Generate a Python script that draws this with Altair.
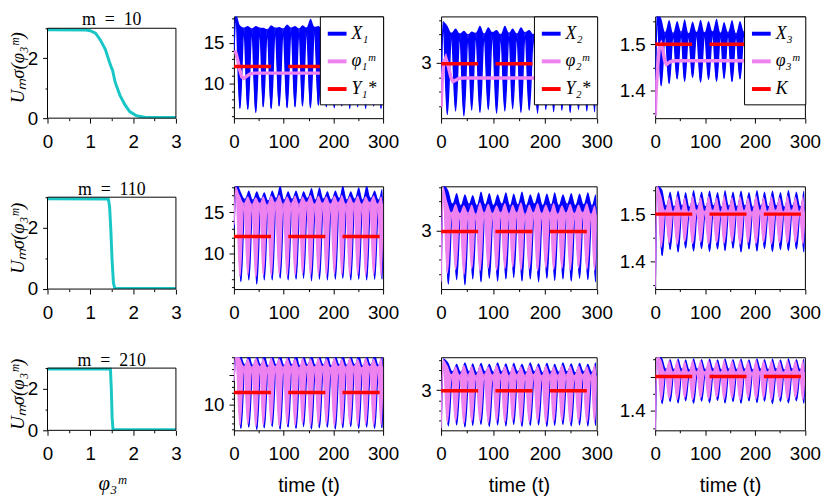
import altair as alt
import pandas as pd

# ------------------------------------------------------------------ colours / fonts
BLUE = "#0000FF"
VIOLET = "#EE82EE"
RED = "#FF0000"
CYAN = "#19C6C6"
SANS = "Liberation Sans"
SERIF = "Liberation Serif"

# ------------------------------------------------------------------ left column: U_m^sigma(phi_3^m)
m_titles = ["m\u2002=\u200210", "m\u2002=\u2002110", "m\u2002=\u2002210"]
phi_m10 = [0.0, 0.9, 1.0, 1.12, 1.23, 1.35, 1.45, 1.5, 1.52, 1.58, 1.69, 1.81, 1.92, 2.08, 2.27, 2.5, 3.0]
U_m10 = [2.95, 2.94, 2.92, 2.84, 2.62, 2.30, 1.86, 1.66, 1.60, 1.20, 0.77, 0.44, 0.22, 0.08, 0.03, 0.02, 0.02]
phi_m110 = [0.0, 1.42, 1.45, 1.48, 1.51, 1.54, 1.57, 3.0]
U_m110 = [2.95, 2.94, 2.70, 1.90, 0.90, 0.20, 0.03, 0.02]
phi_m210 = [0.0, 1.47, 1.49, 1.51, 1.53, 3.0]
U_m210 = [2.95, 2.95, 2.00, 0.60, 0.04, 0.03]
frame_phi = [0, 3]
frame_U = [0, 3]

# ------------------------------------------------------------------ oscillation envelopes
t_apex = [4, 20, 36, 52, 67, 83, 99, 115, 131, 146,
          162, 178, 194, 210, 225, 241, 257, 273, 289, 300]
t_trough = [12, 28, 44, 59, 75, 91, 107, 123, 138, 154,
            170, 186, 202, 217, 233, 249, 265, 281, 296]
t_apex_b = [5, 22, 38, 54, 69, 85, 101, 117, 133, 148,
            164, 180, 196, 212, 227, 243, 259, 275, 291, 300]
t_trough_b = [14, 30, 46, 61, 77, 93, 109, 125, 140, 156,
              172, 188, 204, 219, 235, 251, 267, 283, 298]
t_target = [0, 300]
targets = [12.1, 2.99, 1.5]

# ---- m = 10 : X_i (blue)
X1_start_m10 = [14.0, 14.5]
X1_apex_m10 = [18.6, 16.9, 16.8, 16.9, 16.7, 16.9, 16.8, 16.9, 16.8, 16.9,
               17.0, 16.8, 16.9, 16.8, 16.9, 16.8, 16.9, 16.8, 16.9, 16.8]
X1_low_m10 = [6.9, 6.8, 6.4, 7.1, 6.9, 7.2, 7.0, 7.1, 7.2, 7.0,
              7.3, 7.1, 7.0, 7.2, 6.9, 7.1, 6.9, 7.2, 6.9]
X1_top_m10 = [17.2, 17.1, 17.1, 16.9, 17.2, 17.0, 17.3, 17.1, 17.2, 18.0,
              17.1, 17.2, 17.0, 17.3, 17.0, 17.2, 17.1, 17.0, 17.2]
X2_start_m10 = [2.55, 2.70]
X2_apex_m10 = [3.58, 3.42, 3.41, 3.40, 3.42, 3.41, 3.43, 3.40, 3.42, 3.41,
               3.43, 3.40, 3.42, 3.41, 3.43, 3.40, 3.42, 3.41, 3.42, 3.40]
X2_low_m10 = [2.28, 2.33, 2.26, 2.34, 2.31, 2.35, 2.30, 2.33, 2.36, 2.31,
              2.34, 2.30, 2.35, 2.32, 2.34, 2.31, 2.35, 2.33, 2.32]
X2_top_m10 = [3.52, 3.48, 3.45, 3.44, 3.52, 3.50, 3.46, 3.52, 3.48, 3.50,
              3.46, 3.52, 3.48, 3.50, 3.47, 3.51, 3.48, 3.50, 3.46]
X3_start_m10 = [1.345, 1.350]
X3_apex_m10 = [1.565, 1.526, 1.524, 1.527, 1.523, 1.526, 1.525, 1.527, 1.524, 1.526,
               1.523, 1.527, 1.525, 1.526, 1.524, 1.527, 1.523, 1.526, 1.525, 1.521]
X3_low_m10 = [1.410, 1.415, 1.425, 1.420, 1.428, 1.418, 1.424, 1.420, 1.426, 1.419,
              1.425, 1.421, 1.427, 1.418, 1.424, 1.420, 1.426, 1.421, 1.423]
X3_top_m10 = [1.556, 1.552, 1.550, 1.554, 1.549, 1.553, 1.550, 1.555, 1.548, 1.552,
              1.550, 1.554, 1.549, 1.553, 1.550, 1.552, 1.549, 1.553, 1.550]
# ---- m = 10 : phi_i^m (violet lines)
t_phi1 = [0, 4, 8, 12, 16, 20, 26, 32, 40, 300]
phi1_m10 = [14.0, 13.8, 12.8, 11.6, 10.8, 10.65, 10.9, 11.15, 11.28, 11.28]
t_phi2 = [0, 2, 5, 9, 14, 19, 23, 28, 34, 44, 300]
phi2_m10 = [2.38, 2.75, 3.0, 3.07, 2.95, 2.80, 2.74, 2.76, 2.785, 2.79, 2.79]
t_phi3 = [0, 2, 5, 8, 12, 15, 19, 23, 30, 40, 300]
phi3_m10 = [1.345, 1.40, 1.45, 1.49, 1.50, 1.49, 1.465, 1.456, 1.462, 1.464, 1.464]

# ---- m = 110
X1_start_m110 = [13.0, 14.0]
X1_apex_m110 = [18.5, 16.6, 16.5, 16.6, 16.4, 16.7, 16.5, 16.6, 16.5, 16.7,
                16.5, 16.6, 16.5, 16.7, 16.5, 16.6, 16.5, 16.7, 16.5, 16.4]
X1_low_m110 = [6.7, 6.9, 6.4, 6.9, 6.9, 7.1, 6.9, 7.0, 7.1, 6.8,
               7.0, 6.9, 7.0, 7.1, 6.9, 7.0, 6.9, 7.0, 7.0]
X1_top_m110 = [17.4, 17.6, 17.5, 17.4, 17.6, 18.2, 17.5, 17.6, 17.5, 17.9,
               18.0, 17.5, 17.6, 18.2, 17.5, 18.0, 18.2, 17.6, 17.8]
p1_start_m110 = [13.5, 14.0]
p1_apex_m110 = [18.0, 16.1, 16.0, 16.1, 15.9, 16.2, 16.0, 16.1, 16.0, 16.2,
                16.0, 16.1, 16.0, 16.2, 16.0, 16.1, 16.0, 16.2, 16.0, 15.9]
p1_low_m110 = [7.3, 7.5, 7.2, 7.5, 7.4, 7.6, 7.4, 7.5, 7.6, 7.4,
               7.5, 7.4, 7.6, 7.5, 7.4, 7.5, 7.4, 7.5, 7.4]
p1_top_m110 = [17.0, 16.9, 16.8, 16.9, 17.0, 17.1, 16.9, 17.0, 16.9, 17.1,
               17.0, 16.9, 17.0, 17.1, 16.9, 17.0, 16.9, 17.0, 16.9]
X2_start_m110 = [2.45, 2.60]
X2_apex_m110 = [3.62, 3.37, 3.35, 3.37, 3.35, 3.36, 3.35, 3.37, 3.35, 3.36,
                3.35, 3.37, 3.35, 3.36, 3.35, 3.37, 3.35, 3.36, 3.35, 3.33]
X2_low_m110 = [2.27, 2.33, 2.26, 2.34, 2.30, 2.35, 2.31, 2.34, 2.36, 2.31,
               2.34, 2.30, 2.35, 2.32, 2.34, 2.31, 2.35, 2.33, 2.30]
X2_top_m110 = [3.55, 3.52, 3.50, 3.49, 3.54, 3.52, 3.50, 3.53, 3.51, 3.54,
               3.50, 3.53, 3.51, 3.53, 3.50, 3.52, 3.51, 3.53, 3.50]
p2_start_m110 = [2.30, 2.45]
p2_apex_m110 = [3.60, 3.25, 3.24, 3.25, 3.23, 3.25, 3.24, 3.25, 3.24, 3.25,
                3.23, 3.25, 3.24, 3.25, 3.23, 3.25, 3.24, 3.25, 3.23, 3.22]
p2_low_m110 = [2.42, 2.47, 2.40, 2.48, 2.45, 2.49, 2.46, 2.48, 2.50, 2.46,
               2.48, 2.45, 2.49, 2.47, 2.48, 2.46, 2.49, 2.47, 2.46]
p2_top_m110 = [3.40, 3.37, 3.35, 3.36, 3.39, 3.37, 3.35, 3.38, 3.36, 3.39,
               3.36, 3.38, 3.36, 3.38, 3.35, 3.37, 3.36, 3.38, 3.35]
X3_start_m110 = [1.345, 1.360]
X3_apex_m110 = [1.560, 1.518, 1.516, 1.518, 1.515, 1.518, 1.516, 1.518, 1.515, 1.518,
                1.516, 1.518, 1.515, 1.518, 1.516, 1.518, 1.515, 1.518, 1.516, 1.514]
X3_low_m110 = [1.412, 1.425, 1.420, 1.428, 1.422, 1.427, 1.421, 1.426, 1.423, 1.428,
               1.420, 1.426, 1.422, 1.427, 1.421, 1.425, 1.423, 1.426, 1.420]
X3_top_m110 = [1.552, 1.548, 1.550, 1.547, 1.551, 1.548, 1.550, 1.547, 1.551, 1.548,
               1.550, 1.547, 1.551, 1.548, 1.550, 1.547, 1.551, 1.548, 1.550]
p3_start_m110 = [1.345, 1.350]
p3_apex_m110 = [1.560, 1.508, 1.506, 1.508, 1.505, 1.508, 1.506, 1.508, 1.505, 1.508,
                1.506, 1.508, 1.505, 1.508, 1.506, 1.508, 1.505, 1.508, 1.506, 1.504]
p3_low_m110 = [1.430, 1.440, 1.436, 1.442, 1.438, 1.441, 1.437, 1.440, 1.439, 1.442,
               1.436, 1.440, 1.438, 1.441, 1.437, 1.440, 1.439, 1.441, 1.437]
p3_top_m110 = [1.540, 1.537, 1.539, 1.536, 1.540, 1.537, 1.539, 1.536, 1.540, 1.537,
               1.539, 1.536, 1.540, 1.537, 1.539, 1.536, 1.540, 1.537, 1.539]

# ---- m = 210
X1_start_m210 = [14.0, 15.0]
X1_apex_m210 = [19.0, 16.8, 16.7, 16.8, 16.6, 16.8, 16.7, 16.8, 16.6, 16.8,
                16.7, 16.8, 16.6, 16.8, 16.7, 16.8, 16.6, 16.8, 16.7, 16.5]
X1_low_m210 = [6.1, 6.3, 5.9, 6.2, 6.4, 6.0, 6.3, 6.1, 6.4, 6.0,
               6.2, 6.3, 6.0, 6.2, 6.4, 6.1, 6.3, 6.1, 6.2]
X1_top_m210 = [18.4, 18.5, 18.3, 18.6, 18.4, 18.5, 18.3, 18.6, 18.4, 18.5,
               18.3, 18.6, 18.4, 18.5, 18.3, 18.6, 18.4, 18.5, 18.3]
p1_start_m210 = [14.0, 14.5]
p1_apex_m210 = [18.5, 16.5, 16.4, 16.5, 16.3, 16.5, 16.4, 16.5, 16.3, 16.5,
                16.4, 16.5, 16.3, 16.5, 16.4, 16.5, 16.3, 16.5, 16.4, 16.2]
p1_low_m210 = [6.6, 6.8, 6.4, 6.7, 6.9, 6.5, 6.8, 6.6, 6.9, 6.5,
               6.7, 6.8, 6.5, 6.7, 6.9, 6.6, 6.8, 6.6, 6.7]
p1_top_m210 = [17.9, 17.8, 17.9, 17.8, 17.9, 17.8, 17.9, 17.8, 17.9, 17.8,
               17.9, 17.8, 17.9, 17.8, 17.9, 17.8, 17.9, 17.8, 17.9]
X2_start_m210 = [2.30, 2.40]
X2_apex_m210 = [3.62, 3.37, 3.36, 3.37, 3.35, 3.37, 3.36, 3.37, 3.35, 3.37,
                3.36, 3.37, 3.35, 3.37, 3.36, 3.37, 3.35, 3.37, 3.36, 3.34]
X2_low_m210 = [2.30, 2.32, 2.28, 2.31, 2.33, 2.29, 2.32, 2.30, 2.33, 2.29,
               2.31, 2.32, 2.29, 2.31, 2.33, 2.30, 2.32, 2.30, 2.31]
X2_top_m210 = [3.54, 3.52, 3.55, 3.53, 3.54, 3.52, 3.55, 3.53, 3.54, 3.52,
               3.55, 3.53, 3.54, 3.52, 3.55, 3.53, 3.54, 3.52, 3.55]
p2_start_m210 = [2.25, 2.35]
p2_apex_m210 = [3.60, 3.31, 3.30, 3.31, 3.29, 3.31, 3.30, 3.31, 3.29, 3.31,
                3.30, 3.31, 3.29, 3.31, 3.30, 3.31, 3.29, 3.31, 3.30, 3.28]
p2_low_m210 = [2.37, 2.39, 2.35, 2.38, 2.40, 2.36, 2.39, 2.37, 2.40, 2.36,
               2.38, 2.39, 2.36, 2.38, 2.40, 2.37, 2.39, 2.37, 2.38]
p2_top_m210 = [3.49, 3.47, 3.50, 3.48, 3.49, 3.47, 3.50, 3.48, 3.49, 3.47,
               3.50, 3.48, 3.49, 3.47, 3.50, 3.48, 3.49, 3.47, 3.50]
X3_start_m210 = [1.345, 1.360]
X3_apex_m210 = [1.560, 1.522, 1.521, 1.522, 1.520, 1.522, 1.521, 1.522, 1.520, 1.522,
                1.521, 1.522, 1.520, 1.522, 1.521, 1.522, 1.520, 1.522, 1.521, 1.519]
X3_low_m210 = [1.422, 1.428, 1.424, 1.430, 1.423, 1.429, 1.425, 1.431, 1.424, 1.428,
               1.423, 1.430, 1.425, 1.429, 1.422, 1.428, 1.424, 1.430, 1.423]
X3_top_m210 = [1.553, 1.551, 1.552, 1.550, 1.553, 1.551, 1.552, 1.550, 1.553, 1.551,
               1.552, 1.550, 1.553, 1.551, 1.552, 1.550, 1.553, 1.551, 1.552]
p3_start_m210 = [1.345, 1.350]
p3_apex_m210 = [1.560, 1.515, 1.514, 1.515, 1.513, 1.515, 1.514, 1.515, 1.513, 1.515,
                1.514, 1.515, 1.513, 1.515, 1.514, 1.515, 1.513, 1.515, 1.514, 1.511]
p3_low_m210 = [1.432, 1.437, 1.434, 1.439, 1.433, 1.438, 1.435, 1.440, 1.434, 1.437,
               1.433, 1.439, 1.435, 1.438, 1.432, 1.437, 1.434, 1.439, 1.433]
p3_top_m210 = [1.549, 1.547, 1.548, 1.546, 1.549, 1.547, 1.548, 1.546, 1.549, 1.547,
               1.548, 1.546, 1.549, 1.547, 1.548, 1.546, 1.549, 1.547, 1.548]

legend_labels = [
    ["X\u2081", "\u03c6\u2081\u1d50", "Y\u2081*"],
    ["X\u2082", "\u03c6\u2082\u1d50", "Y\u2082*"],
    ["X\u2083", "\u03c6\u2083\u1d50", "K"],
]

# ------------------------------------------------------------------ layout
col_w = [130, 151, 157.5, 151.6]
row_h = [103, 104, 74]
u_top = [3.396, 3.355, 3.524]
ydoms = [
    [[5.7, 18.3], [2.23, 3.65], [1.34, 1.56]],
    [[5.8, 18.1], [2.2, 3.61], [1.341, 1.559]],
    [[5.76, 18.0], [2.21, 3.65], [1.344, 1.556]],
]


def envelope(ta, tt, start, apex, low, top):
    rows = [{"t": 0, "lo": start[0], "hi": start[1]}]
    for i in range(len(tt)):
        rows.append({"t": ta[i], "lo": apex[i], "hi": apex[i]})
        rows.append({"t": tt[i], "lo": low[i], "hi": top[i]})
    rows.append({"t": ta[len(tt)], "lo": apex[len(tt)], "hi": apex[len(tt)]})
    return pd.DataFrame(rows)


def tick_size(minor_test):
    return {"condition": {"test": minor_test, "value": 2.5}, "value": 5}


def time_xaxis(show_title):
    kw = dict(values=[0, 50, 100, 150, 200, 250, 300],
              labelExpr="datum.value % 100 == 0 ? format(datum.value, 'd') : ''",
              tickSize=tick_size("datum.value % 100 != 0"),
              labelFlush=False, labelOverlap=False, labelPadding=10)
    if show_title:
        kw.update(title="time (t)", titleFont=SANS, titleFontSize=20, titlePadding=12)
    else:
        kw.update(title=None)
    return alt.Axis(**kw)


def time_yaxis(ci, ri, ydom):
    if ci == 0:
        vals = [v for v in [6, 7, 8, 9, 10, 11, 12, 13, 14, 15, 16, 17, 18] if ydom[0] <= v <= ydom[1]]
        lab = "datum.value == 10 ? '10' : ''" if ri == 2 else \
            "datum.value == 10 ? '10' : datum.value == 15 ? '15' : ''"
        minor = "datum.value % 5 != 0"
    elif ci == 1:
        vals = [v for v in [2.4, 2.6, 2.8, 3.0, 3.2, 3.4, 3.6] if ydom[0] <= v <= ydom[1]]
        lab = "abs(datum.value - 3) < 0.001 ? '3' : ''"
        minor = "abs(datum.value - 3) > 0.001"
    else:
        vals = [1.35, 1.4, 1.45, 1.5, 1.55]
        if ri == 2:
            lab = "abs(datum.value - 1.4) < 0.001 ? '1.4' : ''"
        else:
            lab = "abs(datum.value - 1.4) < 0.001 ? '1.4' : abs(datum.value - 1.5) < 0.001 ? '1.5' : ''"
        minor = "abs(datum.value - 1.4) > 0.001 && abs(datum.value - 1.5) > 0.001"
    return alt.Axis(values=vals, labelExpr=lab, tickSize=tick_size(minor),
                    labelOverlap=False, labelPadding=5, title=None)


def time_panel(ci, ri, blue_df, vio_df, phi_line):
    ydom = ydoms[ri][ci]
    xs = alt.Scale(domain=[0, 300], nice=False, zero=False)
    ys = alt.Scale(domain=ydom, nice=False, zero=False)
    xax = time_xaxis(ri == 2)
    yax = time_yaxis(ci, ri, ydom)

    def X(f):
        return alt.X(f"{f}:Q", scale=xs, axis=xax)

    def Y(f):
        return alt.Y(f"{f}:Q", scale=ys, axis=yax)

    def blocks(df, color):
        base = alt.Chart(df)
        fill = base.mark_area(color=color, clip=True, interpolate="monotone").encode(
            x=X("t"), y=Y("hi"), y2="lo")
        edge = base.mark_line(color=color, clip=True, strokeWidth=1.5,
                              interpolate="monotone").encode(x=X("t"), y=Y("lo"))
        return [fill, edge]

    layers = blocks(blue_df, BLUE)
    labels = legend_labels[ci]
    red_df = pd.DataFrame({"t0": [t_target[0]], "t1": [t_target[1]], "v": [targets[ci]], "s": [labels[2]]})
    if ri == 0:
        cscale = alt.Scale(domain=labels, range=[BLUE, VIOLET, RED])
        leg = alt.Legend(title=None, orient="top-right", offset=0, padding=6,
                         fillColor="white", strokeColor="black", cornerRadius=0,
                         symbolType="stroke", symbolSize=361, symbolStrokeWidth=4,
                         labelFont=SERIF, labelFontStyle="italic", labelFontSize=18,
                         labelColor="black", rowPadding=7, labelOffset=3)
        pt, pv = phi_line
        layers.append(
            alt.Chart(pd.DataFrame({"t": pt, "v": pv, "s": [labels[1]] * len(pt)}))
            .mark_line(strokeWidth=3.5, clip=True)
            .encode(x=X("t"), y=Y("v"), color=alt.Color("s:N", scale=cscale, legend=leg))
        )
        layers.append(
            alt.Chart(red_df)
            .mark_rule(strokeWidth=3.5, strokeDash=[37.5, 17.5], clip=True)
            .encode(x=X("t0"), x2="t1", y=Y("v"), color=alt.Color("s:N", scale=cscale, legend=leg))
        )
    else:
        layers += blocks(vio_df, VIOLET)
        layers.append(
            alt.Chart(red_df)
            .mark_rule(color=RED, strokeWidth=3.5, strokeDash=[37.5, 17.5], clip=True)
            .encode(x=X("t0"), x2="t1", y=Y("v"))
        )
    return alt.layer(*layers).properties(width=col_w[ci + 1], height=row_h[ri])


def u_panel(ri, phi, U):
    xs = alt.Scale(domain=[0, 3], nice=False, zero=False)
    ys = alt.Scale(domain=[0, u_top[ri]], nice=False, zero=False)
    xkw = dict(values=[0, 0.5, 1, 1.5, 2, 2.5, 3],
               labelExpr="datum.value % 1 == 0 ? format(datum.value, 'd') : ''",
               tickSize=tick_size("datum.value % 1 != 0"),
               labelFlush=False, labelOverlap=False, labelPadding=10)
    if ri == 2:
        xkw.update(title="\u03c6\u2083\u1d50", titleFont=SERIF, titleFontStyle="italic",
                   titleFontSize=21, titlePadding=9)
    else:
        xkw.update(title=None)
    xax = alt.Axis(**xkw)
    yax = alt.Axis(values=[0, 1, 2, 3],
                   labelExpr="datum.value == 0 ? '0' : datum.value == 2 ? '2' : ''",
                   tickSize=tick_size("datum.value % 2 != 0"),
                   labelOverlap=False, labelPadding=5,
                   title="U\u2098\u03c3(\u03c6\u2083\u1d50)", titleFont=SERIF,
                   titleFontStyle="italic", titleFontSize=19, titlePadding=0)
    line = (
        alt.Chart(pd.DataFrame({"phi": phi, "U": U}))
        .mark_line(color=CYAN, strokeWidth=3, clip=True)
        .encode(x=alt.X("phi:Q", scale=xs, axis=xax), y=alt.Y("U:Q", scale=ys, axis=yax))
    )
    frame = (
        alt.Chart(pd.DataFrame({"x0": [frame_phi[0]], "x1": [frame_phi[1]],
                                "y0": [frame_U[0]], "y1": [frame_U[1]]}))
        .mark_rect(fillOpacity=0, stroke="black", strokeWidth=1)
        .encode(x=alt.X("x0:Q", scale=xs, axis=xax), x2="x1",
                y=alt.Y("y0:Q", scale=ys, axis=yax), y2="y1")
    )
    title = alt.TitleParams(m_titles[ri], font=SERIF, fontSize=18, fontWeight="normal",
                            anchor="middle", frame="group", baseline="alphabetic",
                            offset=-27, color="black")
    return alt.layer(line, frame).properties(
        width=col_w[0], height=row_h[ri], title=title,
        view=alt.ViewBackground(strokeOpacity=0))


blue_m10 = [envelope(t_apex, t_trough, X1_start_m10, X1_apex_m10, X1_low_m10, X1_top_m10),
            envelope(t_apex, t_trough, X2_start_m10, X2_apex_m10, X2_low_m10, X2_top_m10),
            envelope(t_apex, t_trough, X3_start_m10, X3_apex_m10, X3_low_m10, X3_top_m10)]
blue_m110 = [envelope(t_apex_b, t_trough_b, X1_start_m110, X1_apex_m110, X1_low_m110, X1_top_m110),
             envelope(t_apex_b, t_trough_b, X2_start_m110, X2_apex_m110, X2_low_m110, X2_top_m110),
             envelope(t_apex_b, t_trough_b, X3_start_m110, X3_apex_m110, X3_low_m110, X3_top_m110)]
vio_m110 = [envelope(t_apex, t_trough, p1_start_m110, p1_apex_m110, p1_low_m110, p1_top_m110),
            envelope(t_apex, t_trough, p2_start_m110, p2_apex_m110, p2_low_m110, p2_top_m110),
            envelope(t_apex, t_trough, p3_start_m110, p3_apex_m110, p3_low_m110, p3_top_m110)]
blue_m210 = [envelope(t_apex_b, t_trough_b, X1_start_m210, X1_apex_m210, X1_low_m210, X1_top_m210),
             envelope(t_apex_b, t_trough_b, X2_start_m210, X2_apex_m210, X2_low_m210, X2_top_m210),
             envelope(t_apex_b, t_trough_b, X3_start_m210, X3_apex_m210, X3_low_m210, X3_top_m210)]
vio_m210 = [envelope(t_apex, t_trough, p1_start_m210, p1_apex_m210, p1_low_m210, p1_top_m210),
            envelope(t_apex, t_trough, p2_start_m210, p2_apex_m210, p2_low_m210, p2_top_m210),
            envelope(t_apex, t_trough, p3_start_m210, p3_apex_m210, p3_low_m210, p3_top_m210)]
phi_lines = [(t_phi1, phi1_m10), (t_phi2, phi2_m10), (t_phi3, phi3_m10)]

cells = [u_panel(0, phi_m10, U_m10)]
cells += [time_panel(c, 0, blue_m10[c], None, phi_lines[c]) for c in range(3)]
cells += [u_panel(1, phi_m110, U_m110)]
cells += [time_panel(c, 1, blue_m110[c], vio_m110[c], None) for c in range(3)]
cells += [u_panel(2, phi_m210, U_m210)]
cells += [time_panel(c, 2, blue_m210[c], vio_m210[c], None) for c in range(3)]

chart = (
    alt.concat(*cells, columns=4, spacing=alt.RowColnumber(row=69, column=58.7),
               bounds="flush", align="each")
    .resolve_scale(x="independent", y="independent", color="independent")
    .properties(padding={"left": 0, "top": -2.5, "right": 0, "bottom": 0}, background="white")
    .configure_view(stroke="black", strokeWidth=1)
    .configure_axis(labelFont=SANS, labelFontSize=19, labelColor="black", tickColor="black",
                    tickWidth=1, domain=False, grid=False, titleColor="black",
                    titleFontWeight="normal")
)

chart.save("out.html", embed_options={"renderer": "svg", "actions": False})
